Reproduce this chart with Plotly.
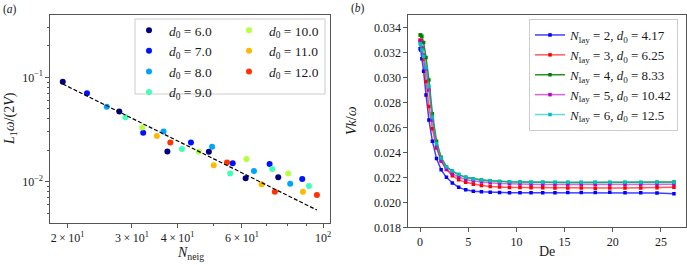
import plotly.graph_objects as go

# ---------------- Panel (a) data ----------------
d0_labels = ["6.0", "7.0", "8.0", "9.0", "10.0", "11.0", "12.0"]
d0_colors = ["#00007f", "#0012ff", "#00a4ff", "#40ffb6", "#b6ff40", "#ffb900", "#ff3200"]

neig_d6 = [19.4, 27.7, 37.5, 48.7, 61.4, 75.4]
L1_d6 = [0.0909, 0.0469, 0.0195, 0.0194, 0.01076, 0.0110]
neig_d7 = [22.6, 32.2, 43.5, 56.6, 71.4, 87.7]
L1_d7 = [0.0703, 0.0295, 0.0237, 0.0150, 0.01477, 0.0106]
neig_d8 = [25.6, 36.6, 49.7, 64.7, 81.3]
L1_d8 = [0.0523, 0.0302, 0.0216, 0.01265, 0.00957]
neig_d9 = [28.8, 41.1, 55.7, 72.6, 91.5]
L1_d9 = [0.0414, 0.0206, 0.0120, 0.01322, 0.00909]
neig_d10 = [32.0, 45.7, 61.7, 80.3]
L1_d10 = [0.0330, 0.0194, 0.0165, 0.0120]
neig_d11 = [35.1, 50.2, 67.9, 88.1]
L1_d11 = [0.0274, 0.01436, 0.00943, 0.00802]
neig_d12 = [38.2, 54.6, 73.8, 96.2]
L1_d12 = [0.0237, 0.0153, 0.00802, 0.00745]

fit_neig = [19.4, 96.2]
fit_L1 = [0.0863, 0.00535]

x_ticks_a = [20, 30, 40, 60, 100]
x_ticktext_a = ["2\u2009×\u200910<sup>1</sup>", "3\u2009×\u200910<sup>1</sup>",
                "4\u2009×\u200910<sup>1</sup>", "6\u2009×\u200910<sup>1</sup>", "10<sup>2</sup>"]
x_minor_a = [50, 70, 80, 90]
y_ticks_a = [0.01, 0.1]
y_ticktext_a = ["10<sup>\u22122</sup>", "10<sup>\u22121</sup>"]
y_minor_a = [0.005, 0.006, 0.007, 0.008, 0.009, 0.02, 0.03, 0.04, 0.05, 0.06, 0.07,
             0.08, 0.09, 0.2, 0.3]

# ---------------- Panel (b) data ----------------
De = [0.008, 0.07, 0.19, 0.37, 0.62, 0.92, 1.28, 1.71, 2.19, 2.74, 3.35, 4.01, 4.74,
      5.53, 6.37, 7.28, 8.25, 9.28, 10.37, 11.52, 12.73, 14.0, 15.33, 16.73, 18.18,
      19.69, 21.27, 22.9, 24.59, 26.35]
V_lay2 = [0.0323, 0.0322, 0.0315, 0.0305, 0.0286, 0.0266, 0.0249, 0.0235, 0.0226, 0.0220,
          0.02155, 0.0212, 0.0210, 0.02089, 0.02084, 0.0208, 0.02078, 0.02077, 0.02077,
          0.02077, 0.02077, 0.02077, 0.02078, 0.02078, 0.02078, 0.0208, 0.02077, 0.02077,
          0.02075, 0.02068]
V_lay3 = [0.0330, 0.03294, 0.0323, 0.03146, 0.02968, 0.02767, 0.02589, 0.02435, 0.02334,
          0.02263, 0.02213, 0.0218, 0.0216, 0.02145, 0.02134, 0.02127, 0.02122, 0.02119,
          0.02118, 0.02117, 0.02116, 0.02115, 0.02115, 0.02114, 0.02113, 0.02114, 0.02115,
          0.02115, 0.02116, 0.0212]
V_lay4 = [0.0334, 0.0334, 0.0333, 0.0328, 0.0316, 0.0298, 0.0271, 0.0249, 0.0236, 0.02285,
          0.0225, 0.02222, 0.0220, 0.02187, 0.02178, 0.02172, 0.02167, 0.02164, 0.02162,
          0.0216, 0.0216, 0.02159, 0.02158, 0.02158, 0.02158, 0.02158, 0.02158, 0.02159,
          0.0216, 0.02162]
V_lay5 = [0.0329, 0.0328, 0.0324, 0.0318, 0.0307, 0.0290, 0.0266, 0.0245, 0.0233, 0.02265,
          0.0223, 0.02203, 0.02183, 0.0217, 0.02162, 0.02156, 0.02151, 0.02148, 0.02146,
          0.02144, 0.02143, 0.02142, 0.02142, 0.02142, 0.02142, 0.02142, 0.02142, 0.02143,
          0.02143, 0.02145]
V_lay6 = [0.0327, 0.0326, 0.0322, 0.0317, 0.0308, 0.0293, 0.0268, 0.0247, 0.02355, 0.02285,
          0.0225, 0.02222, 0.0220, 0.02187, 0.02178, 0.02172, 0.02167, 0.02164, 0.02162,
          0.0216, 0.0216, 0.0216, 0.0216, 0.0216, 0.0216, 0.0216, 0.0216, 0.0216, 0.0216,
          0.0216]
lay_labels = ["<i>N</i><sub>lay</sub> = 2, <i>d</i><sub>0</sub> = 4.17",
              "<i>N</i><sub>lay</sub> = 3, <i>d</i><sub>0</sub> = 6.25",
              "<i>N</i><sub>lay</sub> = 4, <i>d</i><sub>0</sub> = 8.33",
              "<i>N</i><sub>lay</sub> = 5, <i>d</i><sub>0</sub> = 10.42",
              "<i>N</i><sub>lay</sub> = 6, <i>d</i><sub>0</sub> = 12.5"]
lay_line_colors = ["rgba(0,0,255,0.75)", "rgba(255,0,0,0.65)", "rgba(0,128,0,0.85)",
                   "rgba(191,0,191,0.6)", "rgba(0,191,191,0.6)"]
lay_marker_colors = ["#0000ff", "#ff0000", "#008000", "#bf00bf", "#00bfbf"]

x_ticks_b = [0, 5, 10, 15, 20, 25]
y_ticks_b = [0.018, 0.020, 0.022, 0.024, 0.026, 0.028, 0.030, 0.032, 0.034]

# ---------------- Figure ----------------
W, H = 687, 265
FONT = "Liberation Serif, Times New Roman, serif"
FRAME = "#555555"
TXT = "#1a1a1a"

fig = go.Figure()

groups = [(neig_d6, L1_d6), (neig_d7, L1_d7), (neig_d8, L1_d8), (neig_d9, L1_d9),
          (neig_d10, L1_d10), (neig_d11, L1_d11), (neig_d12, L1_d12)]
for i, (xs, ys) in enumerate(groups):
    fig.add_trace(go.Scatter(
        x=xs, y=ys, mode="markers", xaxis="x", yaxis="y",
        marker=dict(color=d0_colors[i], size=6, line=dict(width=0)),
        name="<i>d</i><sub>0</sub> = " + d0_labels[i],
        legend="legend" if i < 4 else "legend2"))

fig.add_trace(go.Scatter(
    x=fit_neig, y=fit_L1, mode="lines", xaxis="x", yaxis="y",
    line=dict(color="black", width=1.2, dash="4px,2px"), showlegend=False))

for V, lab, lc, mc in zip([V_lay2, V_lay3, V_lay4, V_lay5, V_lay6], lay_labels,
                          lay_line_colors, lay_marker_colors):
    fig.add_trace(go.Scatter(
        x=De, y=V, mode="lines+markers", xaxis="x2", yaxis="y2",
        line=dict(color=lc, width=1.5),
        marker=dict(color=mc, size=3.5, symbol="square", line=dict(width=0)),
        name=lab, legend="legend3"))

def px_x(p):
    return p / W

def px_y(p):
    return 1 - p / H

axis_common = dict(showline=True, mirror=True, linecolor=FRAME, linewidth=1.1,
                   ticks="outside", tickcolor=FRAME, ticklen=3.5, tickwidth=1,
                   showgrid=False, zeroline=False, automargin=False,
                   tickfont=dict(family=FONT, size=12, color=TXT))

title_font = dict(family=FONT, size=14, color=TXT)

fig.update_layout(
    width=W, height=H,
    margin=dict(l=0, r=0, t=0, b=0, autoexpand=False),
    paper_bgcolor="white", plot_bgcolor="white",
    font=dict(family=FONT, size=12, color=TXT),
    xaxis=dict(domain=[px_x(50), px_x(330)], type="log",
               range=[1.2529, 2.019], tickmode="array", tickvals=x_ticks_a,
               ticktext=x_ticktext_a, anchor="y",
               minor=dict(tickmode="array", tickvals=x_minor_a, ticklen=2,
                          tickcolor=FRAME, ticks="outside"),
               **axis_common),
    yaxis=dict(domain=[px_y(223), px_y(15)], type="log",
               range=[-2.396, -0.403], tickmode="array", tickvals=y_ticks_a,
               ticktext=y_ticktext_a, anchor="x",
               minor=dict(tickmode="array", tickvals=y_minor_a, ticklen=2,
                          tickcolor=FRAME, ticks="outside"),
               **axis_common),
    xaxis2=dict(domain=[px_x(408), px_x(686)], range=[-1.25, 27.6],
                tickmode="array", tickvals=x_ticks_b, anchor="y2",
                **axis_common),
    yaxis2=dict(domain=[px_y(227.3), px_y(15)], range=[0.018, 0.035],
                tickmode="array", tickvals=y_ticks_b, tickformat=".3f", anchor="x2",
                **axis_common),
    legend=dict(x=px_x(129), y=px_y(15), xanchor="left", yanchor="top",
                bgcolor="rgba(0,0,0,0)", borderwidth=0,
                font=dict(family=FONT, size=13.5, color=TXT), tracegroupgap=0),
    legend2=dict(x=px_x(229), y=px_y(15), xanchor="left", yanchor="top",
                 bgcolor="rgba(0,0,0,0)", borderwidth=0,
                 font=dict(family=FONT, size=13.5, color=TXT), tracegroupgap=0),
    legend3=dict(x=px_x(529), y=px_y(19), xanchor="left", yanchor="top",
                 bgcolor="rgba(255,255,255,0.85)", bordercolor="#cccccc", borderwidth=1,
                 font=dict(family=FONT, size=13, color=TXT), tracegroupgap=0),
    shapes=[dict(type="rect", xref="paper", yref="paper",
                 x0=px_x(135), x1=px_x(325), y0=px_y(94), y1=px_y(19),
                 line=dict(color="#cccccc", width=1), fillcolor="rgba(255,255,255,0.85)",
                 layer="below")],
    annotations=[
        dict(text="(<i>a</i>)", x=px_x(1), y=px_y(1), xref="paper", yref="paper",
             xanchor="left", yanchor="top", showarrow=False,
             font=dict(family=FONT, size=11.5, color=TXT)),
        dict(text="(<i>b</i>)", x=px_x(349), y=px_y(0), xref="paper", yref="paper",
             xanchor="left", yanchor="top", showarrow=False,
             font=dict(family=FONT, size=11.5, color=TXT)),
        # axis titles
        dict(text="<i>N</i><sub>neig</sub>", x=px_x(190), y=px_y(253), xref="paper",
             yref="paper", xanchor="center", yanchor="middle", showarrow=False,
             font=title_font),
        dict(text="<i>L</i><sub>1</sub><i>ω</i>/(2<i>V</i>)", x=px_x(10), y=px_y(119),
             xref="paper", yref="paper", xanchor="center", yanchor="middle",
             showarrow=False, textangle=-90, font=title_font),
        dict(text="De", x=px_x(547), y=px_y(251), xref="paper", yref="paper",
             xanchor="center", yanchor="middle", showarrow=False, font=title_font),
        dict(text="<i>Vk</i>/<i>ω</i>", x=px_x(351), y=px_y(121), xref="paper",
             yref="paper", xanchor="center", yanchor="middle", showarrow=False,
             textangle=-90, font=title_font),
    ],
)

fig.write_html("out.html", config={"displayModeBar": False},
               post_script="document.body.style.margin='0';document.body.style.overflow='hidden';")
